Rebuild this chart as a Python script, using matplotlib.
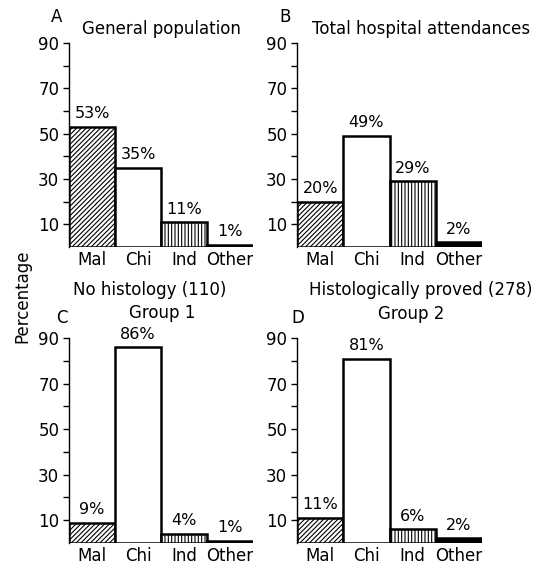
import matplotlib
matplotlib.use("Agg")
import matplotlib.pyplot as plt

categories = ["Mal", "Chi", "Ind", "Other"]
general_population = [53, 35, 11, 1]
hospital_attendances = [20, 49, 29, 2]
group1_no_histology = [9, 86, 4, 1]
group2_histology = [11, 81, 6, 2]
yticks = [10, 20, 30, 40, 50, 60, 70, 80, 90]
ytick_labels = ["10", "", "30", "", "50", "", "70", "", "90"]

hatches = ["///////", "", "|||||", ""]
faces = ["white", "white", "white", "black"]

W, H = 557, 568
plt.rcParams['font.family'] = ['DejaVu Sans']
plt.rcParams['hatch.linewidth'] = 0.8
fig = plt.figure(figsize=(W / 100, H / 100), dpi=100)


def fx(x):
    return x / W


def fy(y):
    return 1 - y / H


def panel(left, top, bottom, right, values):
    ax = fig.add_axes([fx(left), fy(bottom), fx(right - left), (bottom - top) / H])
    x = list(range(len(values)))
    bars = ax.bar(x, values, width=1.0, color=faces, edgecolor="black",
                  linewidth=1.8, zorder=3)
    for b, h in zip(bars, hatches):
        b.set_hatch(h)
    for xi, v in zip(x, values):
        ax.annotate(f"{v}%", (xi, v), xytext=(0, 4), textcoords="offset points",
                    ha="center", va="bottom", fontsize=11.5)
    ax.set_xlim(-0.5, len(values) - 0.5)
    ax.set_ylim(0, 90)
    ax.set_yticks(yticks)
    ax.set_yticklabels(ytick_labels, fontsize=12)
    ax.set_xticks(x)
    ax.set_xticklabels(categories, fontsize=12)
    ax.tick_params(axis="x", length=0, pad=3)
    ax.tick_params(axis="y", length=4, width=1, pad=3, direction="out")
    for s in ["top", "right", "bottom"]:
        ax.spines[s].set_visible(False)
    ax.spines["left"].set_linewidth(1.0)
    ax.set_facecolor("none")
    return ax


panel(69, 43, 247, 253, general_population)
panel(297, 43, 247, 482, hospital_attendances)
panel(69, 338, 543, 253, group1_no_histology)
panel(297, 338, 543, 482, group2_histology)

fig.text(fx(57), fy(17), "A", ha="center", va="center", fontsize=12)
fig.text(fx(161), fy(29), "General population", ha="center", va="center", fontsize=12)
fig.text(fx(285), fy(17), "B", ha="center", va="center", fontsize=12)
fig.text(fx(421), fy(29), "Total hospital attendances", ha="center", va="center", fontsize=12)
fig.text(fx(150), fy(290), "No histology (110)", ha="center", va="center", fontsize=12)
fig.text(fx(162), fy(313), "Group 1", ha="center", va="center", fontsize=12)
fig.text(fx(62), fy(318), "C", ha="center", va="center", fontsize=12)
fig.text(fx(421), fy(290), "Histologically proved (278)", ha="center", va="center", fontsize=12)
fig.text(fx(411), fy(314), "Group 2", ha="center", va="center", fontsize=12)
fig.text(fx(298), fy(318), "D", ha="center", va="center", fontsize=12)
fig.text(fx(22), fy(296), "Percentage", ha="center", va="center", rotation=90, fontsize=12)

fig.savefig("out.png", dpi=100, facecolor="white")
